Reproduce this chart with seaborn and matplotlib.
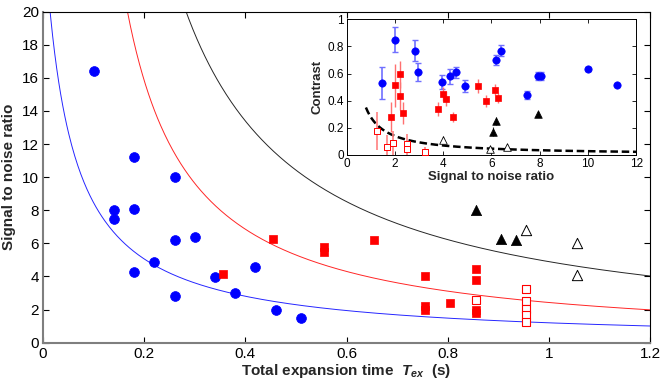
import numpy as np
import matplotlib
matplotlib.use('Agg')
import matplotlib.pyplot as plt
import seaborn as sns

# ---- main panel data: total expansion time (s) vs signal to noise ratio ----
blue_tex = [0.10, 0.14, 0.14, 0.18, 0.18, 0.18, 0.22, 0.26, 0.26, 0.26, 0.30, 0.34, 0.38, 0.42, 0.46, 0.51]
blue_snr = [16.4, 8.0, 7.5, 11.2, 8.1, 4.3, 4.9, 10.0, 6.2, 2.85, 6.4, 3.95, 3.0, 4.55, 2.0, 1.47]

red_tex = [0.355, 0.455, 0.555, 0.555, 0.655, 0.755, 0.755, 0.755, 0.805, 0.855, 0.855, 0.855, 0.855]
red_snr = [4.15, 6.28, 5.8, 5.5, 6.19, 4.01, 2.24, 1.98, 2.38, 4.43, 3.81, 1.98, 1.78]

red_open_tex = [0.855, 0.955, 0.955, 0.955, 0.955, 0.955]
red_open_snr = [2.56, 3.24, 2.54, 2.02, 1.69, 1.25]

black_tex = [0.855, 0.905, 0.935]
black_snr = [8.02, 6.27, 6.19]

black_open_tex = [0.955, 1.055, 1.055]
black_open_snr = [6.81, 6.04, 4.07]

# model curves  snr = a / (t - t0)^p
curve_params = {'blue': (1.26, -0.049, 1.0),
                'red': (2.35, 0.03, 1.077),
                'black': (4.72, 0.035, 1.035)}

# ---- inset data: signal to noise ratio vs contrast ----
in_blue_snr = [1.46, 2.01, 2.84, 2.95, 3.94, 4.28, 4.54, 4.92, 6.18, 6.40, 7.46, 7.93, 8.05, 10.0, 11.19]
in_blue_c = [0.53, 0.85, 0.77, 0.61, 0.54, 0.58, 0.61, 0.51, 0.70, 0.77, 0.44, 0.585, 0.585, 0.636, 0.516]
in_blue_err = [0.12, 0.09, 0.08, 0.065, 0.05, 0.055, 0.04, 0.045, 0.04, 0.037, 0.03, 0.03, 0.03, 0.015, 0.01]

in_red_snr = [1.86, 2.01, 2.22, 2.21, 2.34, 3.79, 3.99, 4.14, 4.41, 5.43, 5.77, 6.15, 6.28]
in_red_c = [0.278, 0.514, 0.595, 0.435, 0.307, 0.337, 0.45, 0.413, 0.278, 0.509, 0.396, 0.482, 0.42]
in_red_err = [0.11, 0.16, 0.10, 0.10, 0.08, 0.05, 0.05, 0.055, 0.037, 0.05, 0.045, 0.04, 0.04]

in_red_open_snr = [1.26, 1.67, 1.94, 2.51, 2.51, 3.23]
in_red_open_c = [0.177, 0.059, 0.086, 0.081, 0.042, 0.022]
in_red_open_err = [0.14, 0.09, 0.09, 0.07, 0.07, 0.04]

in_black_snr = [6.06, 6.19, 7.93]
in_black_c = [0.172, 0.253, 0.30]
in_black_err = [0.035, 0.03, 0.01]

in_black_open_snr = [3.99, 5.93, 6.66]
in_black_open_c = [0.11, 0.047, 0.061]
in_black_open_err = [0.03, 0.01, 0.01]

noise_floor_coef = 0.28  # dashed curve: contrast = coef / snr

sns.set_theme(style='ticks')
plt.rcParams['font.family'] = ['Liberation Sans', 'DejaVu Sans']
plt.rcParams['mathtext.fontset'] = 'custom'
plt.rcParams['mathtext.it'] = 'Liberation Sans:italic:bold'
plt.rcParams['mathtext.rm'] = 'Liberation Sans:bold'

fig = plt.figure(figsize=(6.64, 3.90), dpi=100)
ax = fig.add_axes([0.0648, 0.1213, 0.9142, 0.8487])

t = np.linspace(0.005, 1.2, 600)
for col, (a, t0, p) in curve_params.items():
    tt = t[t > t0 + 0.01]
    sns.lineplot(x=tt, y=a / (tt - t0) ** p, ax=ax, color=col, lw=0.7,
                 errorbar=None, alpha=0.85, zorder=1)

sns.scatterplot(x=blue_tex, y=blue_snr, ax=ax, marker='o', s=50, color='blue',
                edgecolor='blue', linewidth=0.5, zorder=3)
sns.scatterplot(x=red_tex, y=red_snr, ax=ax, marker='s', s=28, color='red',
                edgecolor='red', linewidth=0.5, zorder=3)
sns.scatterplot(x=red_open_tex, y=red_open_snr, ax=ax, marker='s', s=26, color='red',
                facecolor='white', edgecolor='red', linewidth=0.8, zorder=3)
sns.scatterplot(x=black_tex, y=black_snr, ax=ax, marker='^', s=55, color='black',
                edgecolor='black', linewidth=0.5, zorder=3)
sns.scatterplot(x=black_open_tex, y=black_open_snr, ax=ax, marker='^', s=55, color='black',
                facecolor='white', edgecolor='black', linewidth=0.7, zorder=3)

ax.set_xlim(0, 1.2)
ax.set_ylim(0, 20)
ax.set_xticks(np.arange(0, 1.21, 0.2))
ax.set_xticklabels(['0', '0.2', '0.4', '0.6', '0.8', '1', '1.2'])
ax.set_yticks(np.arange(0, 21, 2))
ax.tick_params(direction='in', top=True, right=True, length=4, width=0.8,
               labelsize=11, pad=3, colors='black')
ax.set_xlabel(r'Total expansion time  $T_{ex}$  (s)', fontsize=11, fontweight='bold', labelpad=1)
ax.set_ylabel('Signal to noise ratio', fontsize=11, fontweight='bold', labelpad=4)
for side in ['left', 'bottom']:
    ax.spines[side].set_color('#7f7f7f')
    ax.spines[side].set_linewidth(1.5)
for side in ['top', 'right']:
    ax.spines[side].set_color('black')
    ax.spines[side].set_linewidth(0.8)
    ax.spines[side].set_visible(True)

# ---- inset ----
ins = fig.add_axes([0.522, 0.6026, 0.436, 0.3479])
ins.set_facecolor('white')

s = np.linspace(0.8, 12, 300)
sns.lineplot(x=s, y=noise_floor_coef / s, ax=ins, color='black', lw=1.8,
             linestyle=(0, (3, 1.5)), errorbar=None, zorder=2)

ins.errorbar(in_blue_snr, in_blue_c, yerr=in_blue_err, fmt='none', ecolor='#7070ff',
             elinewidth=1.2, capsize=2.5, capthick=1.0, zorder=2)
ins.errorbar(in_red_snr, in_red_c, yerr=in_red_err, fmt='none', ecolor='#ff7070',
             elinewidth=1.0, capsize=0, zorder=2)
ins.errorbar(in_red_open_snr, in_red_open_c, yerr=in_red_open_err, fmt='none', ecolor='#ff8080',
             elinewidth=1.2, capsize=0, zorder=2)
ins.errorbar(in_black_snr, in_black_c, yerr=in_black_err, fmt='none', ecolor='#333333',
             elinewidth=0.8, capsize=0, zorder=2)
ins.errorbar(in_black_open_snr, in_black_open_c, yerr=in_black_open_err, fmt='none',
             ecolor='#555555', elinewidth=0.8, capsize=0, zorder=2)

sns.scatterplot(x=in_blue_snr, y=in_blue_c, ax=ins, marker='o', s=28, color='blue',
                edgecolor='blue', linewidth=0.5, zorder=3)
sns.scatterplot(x=in_red_snr, y=in_red_c, ax=ins, marker='s', s=17, color='red',
                edgecolor='red', linewidth=0.5, zorder=3)
sns.scatterplot(x=in_red_open_snr, y=in_red_open_c, ax=ins, marker='s', s=18, color='red',
                facecolor='white', edgecolor='red', linewidth=0.7, zorder=3)
sns.scatterplot(x=in_black_snr, y=in_black_c, ax=ins, marker='^', s=30, color='black',
                edgecolor='black', linewidth=0.5, zorder=3)
sns.scatterplot(x=in_black_open_snr, y=in_black_open_c, ax=ins, marker='^', s=30, color='black',
                facecolor='white', edgecolor='black', linewidth=0.6, zorder=3)

ins.set_xlim(0, 12)
ins.set_ylim(0, 1)
ins.set_xticks(np.arange(0, 13, 2))
ins.set_yticks([0, 0.2, 0.4, 0.6, 0.8, 1.0])
ins.set_yticklabels(['0', '0.2', '0.4', '0.6', '0.8', '1'])
ins.tick_params(direction='in', top=True, right=True, length=3, width=0.6,
                labelsize=8.5, pad=2, colors='black')
ins.set_xlabel('Signal to noise ratio', fontsize=9.5, fontweight='bold', labelpad=1)
ins.set_ylabel('Contrast', fontsize=9.5, fontweight='bold', labelpad=3)
for side in ins.spines:
    ins.spines[side].set_visible(True)
    ins.spines[side].set_color('black')
    ins.spines[side].set_linewidth(0.7)

fig.savefig('out.png', dpi=100, facecolor='white')
